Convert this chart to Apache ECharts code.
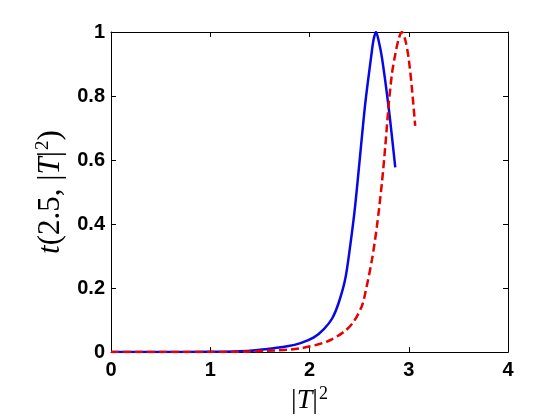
<!DOCTYPE html>
<html><head><meta charset="utf-8">
<script src="https://cdn.jsdelivr.net/npm/echarts@6/dist/echarts.min.js"></script>
<style>html,body{margin:0;padding:0;background:#fff}#c{width:560px;height:420px}</style>
</head><body><div id="c"></div>
<script>
var blueX = [0, 0.5, 1.0, 1.24, 1.4, 1.575, 1.775, 1.91, 2.044, 2.145, 2.228, 2.295, 2.36, 2.41, 2.46, 2.513, 2.563, 2.62, 2.645, 2.67, 2.695, 2.73, 2.797, 2.864];
var blueY = [0, 0, 0.001, 0.002, 0.004, 0.01, 0.018, 0.028, 0.046, 0.072, 0.105, 0.155, 0.228, 0.332, 0.457, 0.624, 0.78, 0.92, 0.975, 1.0, 0.975, 0.92, 0.765, 0.577];
var redX = [0, 0.5, 1.0, 1.575, 1.91, 2.177, 2.345, 2.445, 2.529, 2.563, 2.63, 2.68, 2.73, 2.764, 2.797, 2.831, 2.864, 2.9, 2.93, 2.965, 2.998, 3.03, 3.065];
var redY = [0, 0, 0, 0.004, 0.012, 0.033, 0.063, 0.095, 0.145, 0.186, 0.29, 0.395, 0.53, 0.645, 0.77, 0.87, 0.93, 0.98, 1.0, 0.975, 0.92, 0.83, 0.707];
var xTicks = [0, 1, 2, 3, 4];
var yTicks = [0, 0.2, 0.4, 0.6, 0.8, 1];

function pairs(xs, ys) { return xs.map(function (x, i) { return [x, ys[i]]; }); }

var chart = echarts.init(document.getElementById('c'), null, { renderer: 'canvas' });
var lblStyle = { color: '#000', fontSize: 20, fontWeight: 'bold', fontFamily: 'Liberation Sans, Arial, sans-serif' };
var axLine = { show: true, onZero: false, lineStyle: { color: '#000', width: 1 } };
var tick = { show: true, inside: true, length: 5, lineStyle: { color: '#000', width: 1 } };
function rich(size, supSize, supPad) {
  return {
    i: { fontStyle: 'italic', fontFamily: 'Liberation Serif, serif', fontSize: size, color: '#000' },
    s: { fontFamily: 'Liberation Serif, serif', fontSize: supSize, color: '#000', verticalAlign: 'top', padding: [0, 0, supPad, 1] }
  };
}
chart.setOption({
  animation: false,
  backgroundColor: '#fff',
  grid: { left: 111, right: 52, top: 32, bottom: 67, containLabel: false },
  xAxis: [{
    type: 'value', min: xTicks[0], max: xTicks[xTicks.length - 1], interval: 1,
    axisLine: axLine, axisTick: tick, splitLine: { show: false },
    axisLabel: Object.assign({ margin: 8, formatter: function (v) { return xTicks.indexOf(v) >= 0 ? String(v) : ''; } }, lblStyle),
    name: '|{i|T}|{s|2}', nameLocation: 'middle', nameGap: 32,
    nameTextStyle: { fontFamily: 'Liberation Serif, serif', fontSize: 28, color: '#000', rich: rich(28, 18, 14) }
  }, {
    type: 'value', position: 'top', min: 0, max: 4, interval: 1,
    axisLine: axLine, axisTick: tick, axisLabel: { show: false }, splitLine: { show: false }
  }],
  yAxis: [{
    type: 'value', min: yTicks[0], max: yTicks[yTicks.length - 1], interval: 0.2,
    axisLine: axLine, axisTick: tick, splitLine: { show: false },
    axisLabel: Object.assign({ margin: 6, formatter: function (v) { return String(Math.round(v * 10) / 10); } }, lblStyle),
    name: '{i|t}(2.5, |{i|T}|{s|2})', nameLocation: 'middle', nameGap: 37, nameRotate: 90,
    nameTextStyle: { fontFamily: 'Liberation Serif, serif', fontSize: 31, color: '#000', rich: rich(31, 19, 15) }
  }, {
    type: 'value', position: 'right', min: 0, max: 1, interval: 0.2,
    axisLine: axLine, axisTick: tick, axisLabel: { show: false }, splitLine: { show: false }
  }],
  series: [{
    type: 'line', data: pairs(blueX, blueY), showSymbol: false, smooth: 0.3,
    lineStyle: { color: '#0808e6', width: 2.5 }, z: 3
  }, {
    type: 'line', data: pairs(redX, redY), showSymbol: false, smooth: 0.3,
    lineStyle: { color: '#e80000', width: 2.5, type: [8, 4] }, z: 4
  }]
});
</script></body></html>
